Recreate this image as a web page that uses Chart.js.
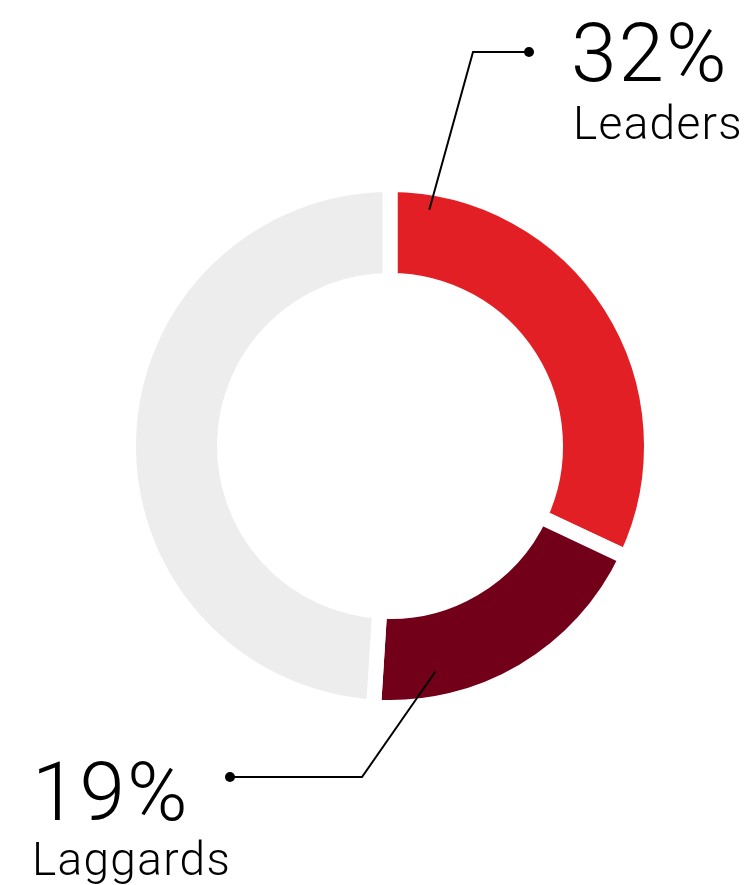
<!DOCTYPE html>
<html>
<head>
<meta charset="utf-8">
<script src="https://cdn.jsdelivr.net/npm/chart.js@4"></script>
<style>
  html, body { margin: 0; padding: 0; background: #fff; }
  #wrap { width: 750px; height: 885px; position: relative; }
</style>
</head>
<body>
<div id="wrap"><canvas id="shareChart"></canvas></div>
<script>
// Segment data
const categories = ['Leaders', 'Laggards', 'Others'];
const shares = [32, 19, 49];
const segmentColors = ['#E31F26', '#720019', '#EDEDED'];

// Callouts for the labelled segments: where the leader line starts on the arc
// (fraction along the angle / ring width), the elbow, the dot and the text block
const callouts = [
    { index: 0, angleFrac: 0.082, ringFrac: 0.77, elbow: [473, 52], dot: [529, 52], text: [571, 81], sub: [573, 139] },
    { index: 1, angleFrac: 0.78, ringFrac: 0.67, elbow: [362, 777], dot: [230, 777], text: [32, 820], sub: [32, 875] }
];

const calloutPlugin = {
    id: 'callouts',
    afterDraw(chart) {
        const ctx = chart.ctx;
        const arcs = chart.getDatasetMeta(0).data;
        ctx.save();
        callouts.forEach(c => {
            const arc = arcs[c.index];
            const p = arc.getProps(['x', 'y', 'startAngle', 'endAngle', 'innerRadius', 'outerRadius'], true);
            const a = p.startAngle + c.angleFrac * (p.endAngle - p.startAngle);
            const r = p.innerRadius + c.ringFrac * (p.outerRadius - p.innerRadius);
            const ax = p.x + Math.cos(a) * r;
            const ay = p.y + Math.sin(a) * r;

            // leader line
            ctx.strokeStyle = '#000';
            ctx.lineWidth = 2;
            ctx.beginPath();
            ctx.moveTo(ax, ay);
            ctx.lineTo(c.elbow[0], c.elbow[1]);
            ctx.lineTo(c.dot[0], c.dot[1]);
            ctx.stroke();
            ctx.fillStyle = '#000';
            ctx.beginPath();
            ctx.arc(c.dot[0], c.dot[1], 5, 0, Math.PI * 2);
            ctx.fill();

            // value and name
            ctx.textAlign = 'left';
            ctx.textBaseline = 'alphabetic';
            ctx.font = '300 82px Roboto, "Liberation Sans", sans-serif';
            ctx.letterSpacing = '2px';
            ctx.fillText(shares[c.index] + '%', c.text[0], c.text[1]);
            ctx.font = '300 46px Roboto, "Liberation Sans", sans-serif';
            ctx.letterSpacing = '1.3px';
            ctx.fillText(categories[c.index], c.sub[0], c.sub[1]);
        });
        ctx.restore();
    }
};

new Chart(document.getElementById('shareChart').getContext('2d'), {
    type: 'doughnut',
    data: {
        labels: categories,
        datasets: [{
            data: shares,
            backgroundColor: segmentColors,
            borderColor: '#FFFFFF',
            borderWidth: 15,
            hoverOffset: 0
        }]
    },
    options: {
        responsive: true,
        maintainAspectRatio: false,
        animation: false,
        radius: 261.5,
        cutout: '63.3%',
        layout: {
            padding: { left: 30, right: 0, top: 7, bottom: 0 }
        },
        plugins: {
            legend: { display: false },
            tooltip: { enabled: false }
        }
    },
    plugins: [calloutPlugin]
});
</script>
</body>
</html>
